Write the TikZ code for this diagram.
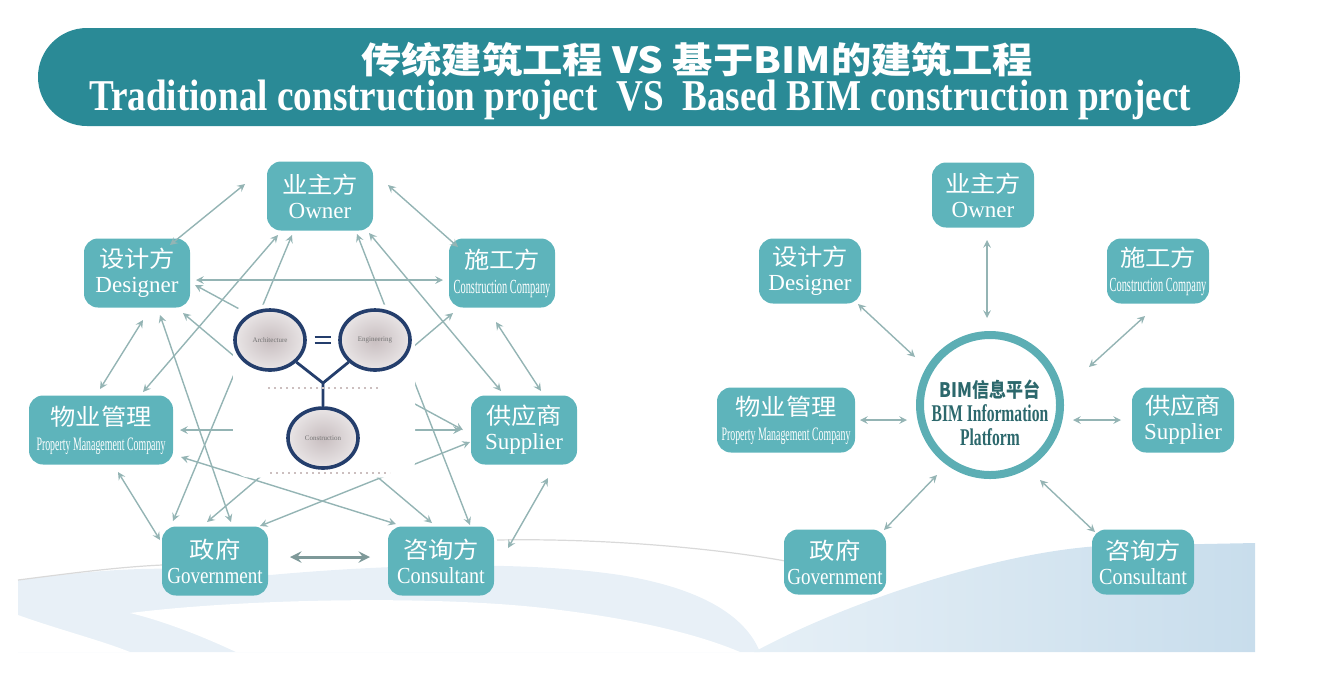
\documentclass[tikz,border=0pt]{standalone}
\usepackage{fontspec}
\setmainfont{Liberation Serif}
\newfontfamily\cjk{Noto Sans CJK SC}
\usepackage{graphicx}
\usepackage{xcolor}
\usepackage{tikz}
\usetikzlibrary{shapes,arrows,positioning,calc}

\definecolor{banner}{RGB}{42,138,150}
\definecolor{boxteal}{RGB}{94,180,187}
\definecolor{linkgray}{RGB}{148,180,180}
\definecolor{ringteal}{RGB}{92,174,180}
\definecolor{darkteal}{RGB}{44,104,108}
\definecolor{aecnavy}{RGB}{36,62,108}
\definecolor{aecfill}{RGB}{200,190,192}
\definecolor{paleblue}{RGB}{232,240,247}
\definecolor{hillblue}{RGB}{200,221,236}

\begin{document}
\begin{tikzpicture}[x=0.5pt, y=-0.5pt,
        party/.style={rectangle, rounded corners=7pt, fill=boxteal, text=white, minimum width=53pt, minimum height=34.5pt, inner sep=1pt, align=center, font=\fontsize{11.5}{12.5}\selectfont},
        widebox/.style={party, minimum width=72pt},
        party2/.style={party, minimum width=51pt, minimum height=32.5pt},
        widebox2/.style={party2, minimum width=69pt},
        link/.style={<->, >=stealth, draw=linkgray, line width=0.7pt},
        heavylink/.style={<->, >=stealth, draw=linkgray!85!black, line width=1.5pt},
        aec/.style={ellipse, draw=aecnavy, line width=1.8pt, inner color=aecfill, outer color=aecfill!40!white, minimum width=35pt, minimum height=30pt, inner sep=0pt, text=black!55, font=\fontsize{3.5}{4}\selectfont},
        aecline/.style={draw=aecnavy, line width=1.4pt},
        bimring/.style={circle, draw=ringteal, line width=4pt, minimum size=70pt, inner sep=0pt}
    ]
        \useasboundingbox (0,0) rectangle (1321,677);

        % Backdrop
        \fill[paleblue] (18,580) .. controls (100,570) and (160,563) .. (270,575) .. controls (380,565) and (520,560) .. (620,575) .. controls (700,588) and (745,615) .. (760,652) -- (18,652) -- cycle;
        \fill[white] (130,613) .. controls (250,598) and (450,595) .. (560,610) .. controls (640,620) and (700,635) .. (740,652) -- (236,652) .. controls (200,635) and (160,620) .. (130,613) -- cycle;
        \fill[white] (18,615) .. controls (60,630) and (100,640) .. (130,652) -- (18,652) -- cycle;
        \shade[left color=hillblue!45, right color=hillblue] (754,652) .. controls (850,600) and (1000,552) .. (1100,546) -- (1255,543) -- (1255,652) -- cycle;
        \draw[black!15, line width=0.6pt] (497,540) .. controls (600,538) and (720,548) .. (796,563);
        \draw[black!15, line width=0.6pt] (18,580) .. controls (80,572) and (120,567) .. (162,565);

        % Banner
        \node[fill=banner, rounded corners=24.5pt, minimum width=601pt, minimum height=49pt] (banner) at (639,77) {};
        \node[anchor=base, text=white, font=\fontsize{18}{20}\selectfont] (titlecn) at (697,73) {\cjk\bfseries\scalebox{1.12}[1]{传统建筑工程 VS 基于BIM的建筑工程}};
        \node[anchor=base, text=white, font=\fontsize{22}{24}\selectfont\bfseries] (titleen) at (640,110) {\scalebox{0.845}[1]{Traditional construction project\ \ VS\ \ Based BIM construction project}};

        % Traditional project
        \node[party] (own) at (320,196) {{\cjk\scalebox{1.1}[1]{业主方}}\\Owner};
        \node[party] (des) at (137,273) {{\cjk\scalebox{1.1}[1]{设计方}}\\Designer};
        \node[party] (con) at (502,273) {{\cjk\scalebox{1.1}[1]{施工方}}\\{\fontsize{10}{12.5}\selectfont\scalebox{0.52}[1]{Construction Company}}};
        \node[widebox] (pro) at (101,430) {{\cjk\scalebox{1.1}[1]{物业管理}}\\{\fontsize{9.5}{12.5}\selectfont\scalebox{0.52}[1]{Property Management Company}}};
        \node[party] (sup) at (524,430) {{\cjk\scalebox{1.1}[1]{供应商}}\\Supplier};
        \node[party] (gov) at (215,561) {{\cjk\scalebox{1.1}[1]{政府}}\\\scalebox{0.83}[1]{Government}};
        \node[party] (cst) at (441,561) {{\cjk\scalebox{1.1}[1]{咨询方}}\\\scalebox{0.88}[1]{Consultant}};

        % Arrows
        \draw[link] ($(own)+(-75,-12)$) -- ($(des)+(33,-28)$);
        \draw[link] ($(own)+(68,-11)$) -- ($(con)+(-44,-26)$);
        \draw[link] ($(des)+(59,7)$) -- ($(con)+(-59,7)$);
        \draw[link] ($(des)+(6,47)$) -- ($(pro)+(-1,-41)$);
        \draw[link] ($(con)+(-6,49)$) -- ($(sup)+(17,-39)$);
        \draw[link] ($(pro)+(17,42)$) -- ($(gov)+(-55,-21)$);
        \draw[link] ($(sup)+(24,48)$) -- ($(cst)+(67,-13)$);
        \draw[heavylink] ($(gov)+(75,-4)$) -- ($(cst)+(-71,-4)$);
        \draw[link] ($(own)+(-42,39)$) -- ($(pro)+(42,-38)$);
        \draw[link] ($(own)+(49,37)$) -- ($(sup)+(-23,-39)$);
        \draw[link] ($(own)+(-28,39)$) -- ($(gov)+(-42,-40)$);
        \draw[link] ($(own)+(37,38)$) -- ($(cst)+(29,-36)$);
        \draw[link] ($(des)+(58,12)$) -- ($(sup)+(-61,0)$);
        \draw[link] ($(des)+(23,42)$) -- ($(gov)+(16,-39)$);
        \draw[link] ($(des)+(46,40)$) -- ($(cst)+(-9,-38)$);
        \draw[link] ($(con)+(-49,40)$) -- ($(gov)+(-8,-39)$);
        \draw[link] ($(pro)+(79,0)$) -- ($(sup)+(-63,0)$);
        \draw[link] ($(pro)+(80,27)$) -- ($(cst)+(-45,-37)$);
        \draw[link] ($(sup)+(-54,12)$) -- ($(gov)+(45,-35)$);

        % A/E/C picture in the middle
        \node[fill=white, rounded corners=8pt, minimum width=91pt, minimum height=86.5pt, inner sep=0pt] (aecpic) at (324,391) {};
        \node[aec] (arch) at (270,340) {Architecture};
        \node[aec] (eng) at (375,340) {Engineering};
        \node[aec] (cons) at (323,438) {Construction};
        \coordinate (yj) at (323,383);
        \coordinate (eq) at ($(arch)!0.5!(eng)$);
        \draw[aecline] (arch.-40) -- (yj) -- (cons.north);
        \draw[aecline] (eng.220) -- (yj);
        \draw[aecline] ($(eq)+(-8,-3)$) -- ($(eq)+(8,-3)$);
        \draw[aecline] ($(eq)+(-8,3)$) -- ($(eq)+(8,3)$);
        \draw[dotted, red!20!black!25, line width=1pt] ($(cons)+(-55,-50)$) -- ($(cons)+(55,-50)$);
        \draw[dotted, red!20!black!25, line width=1pt] ($(cons)+(-53,35)$) -- ($(cons)+(67,35)$);

        % BIM based project
        \node[bimring] (bim) at (990,405) {};
        \node[text=darkteal, align=center, font=\fontsize{12}{12}\selectfont\bfseries] (bimtxt) at (990,413) {{\cjk\bfseries\fontsize{10}{10}\selectfont\scalebox{0.85}[1]{BIM信息平台}}\\\scalebox{0.65}[1]{BIM Information}\\\scalebox{0.65}[1]{Platform}};

        \node[party2] (own2) at (983,195) {{\cjk\scalebox{1.1}[1]{业主方}}\\Owner};
        \node[party2] (des2) at (810,271) {{\cjk\scalebox{1.1}[1]{设计方}}\\Designer};
        \node[party2] (con2) at (1158,271) {{\cjk\scalebox{1.1}[1]{施工方}}\\{\fontsize{10}{12.5}\selectfont\scalebox{0.52}[1]{Construction Company}}};
        \node[widebox2] (pro2) at (786,420) {{\cjk\scalebox{1.1}[1]{物业管理}}\\{\fontsize{9.5}{12.5}\selectfont\scalebox{0.52}[1]{Property Management Company}}};
        \node[party2] (sup2) at (1183,420) {{\cjk\scalebox{1.1}[1]{供应商}}\\Supplier};
        \node[party2] (gov2) at (835,562) {{\cjk\scalebox{1.1}[1]{政府}}\\\scalebox{0.83}[1]{Government}};
        \node[party2] (cst2) at (1143,562) {{\cjk\scalebox{1.1}[1]{咨询方}}\\\scalebox{0.88}[1]{Consultant}};

        \draw[link] ($(own2)+(4,45)$) -- ($(bim)+(-3,-87)$);
        \draw[link] ($(des2)+(48,33)$) -- ($(bim)+(-75,-48)$);
        \draw[link] ($(con2)+(-13,45)$) -- ($(bim)+(99,-38)$);
        \draw[link] ($(pro2)+(74,0)$) -- ($(bim)+(-83,15)$);
        \draw[link] ($(sup2)+(-62,0)$) -- ($(bim)+(83,15)$);
        \draw[link] ($(gov2)+(49,-32)$) -- ($(bim)+(-53,70)$);
        \draw[link] ($(cst2)+(-48,-30)$) -- ($(bim)+(50,75)$);
    \end{tikzpicture}
\end{document}
